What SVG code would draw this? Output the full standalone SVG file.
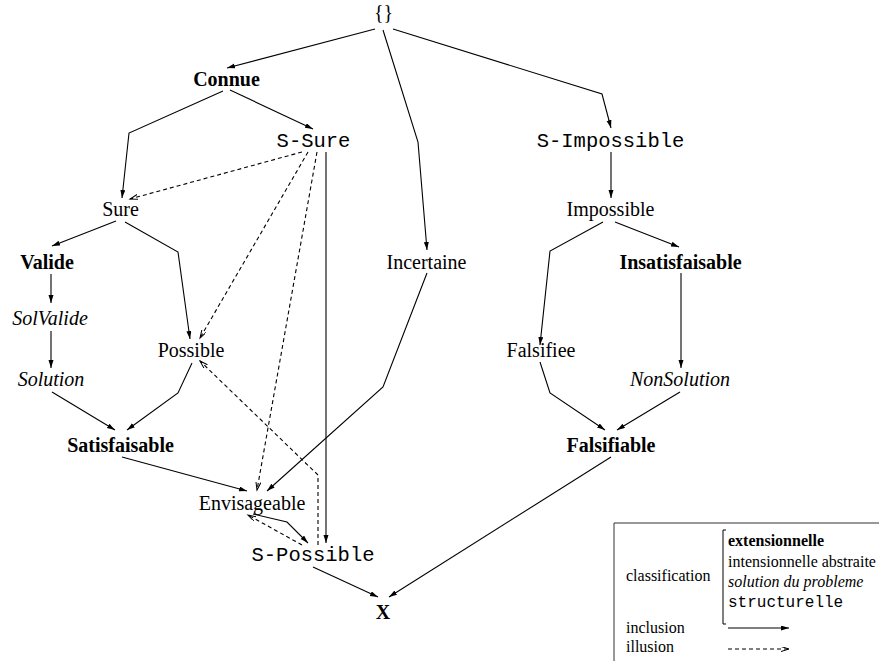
<svg xmlns="http://www.w3.org/2000/svg" width="879" height="661" viewBox="0 0 879 661">
<defs>
<style>
text{font-family:"Liberation Serif","Times New Roman",serif;font-size:20px;fill:#000;text-anchor:middle}
.b{font-weight:bold}
.i{font-style:italic}
.m{font-family:"Liberation Mono","Courier New",monospace;font-size:20.5px}
.lg{font-size:16px;text-anchor:start}
.lgm{font-family:"Liberation Mono","Courier New",monospace;font-size:16px;text-anchor:start}
.e{fill:none;stroke:#000;stroke-width:1.1}
.s{marker-end:url(#ah)}
.d{stroke-dasharray:4 3;marker-end:url(#ahd)}
</style>
<marker id="ah" markerUnits="userSpaceOnUse" markerWidth="10" markerHeight="8" refX="8" refY="2.5" orient="auto"><path d="M0,0 L8,2.5 L0,5 z" fill="#000"/></marker>
<marker id="ahd" markerUnits="userSpaceOnUse" markerWidth="10" markerHeight="8" refX="8" refY="2.5" orient="auto"><path d="M0,0 L8,2.5 L0,5" fill="none" stroke="#000" stroke-width="1"/></marker>
</defs>
<rect width="879" height="661" fill="#fff"/>
<g id="connectors">
<path class="e s" d="M375,29 L227,68"/>
<path class="e s" d="M383,30 L418,142 L427,250"/>
<path class="e s" d="M393,29 L602,94 L611,128"/>
<path class="e s" d="M230,90 L313,129"/>
<path class="e s" d="M223,91 L129,133 L122,198"/>
<path class="e d" d="M302,152 L130,199"/>
<path class="e d" d="M308,152 L200,338"/>
<path class="e d" d="M317,152 L257,490"/>
<path class="e s" d="M326,152 L326,543"/>
<path class="e s" d="M116,221 L52,246"/>
<path class="e s" d="M125,222 L178,252 L190,339"/>
<path class="e s" d="M51,274 L51,303"/>
<path class="e s" d="M51,331 L51,368"/>
<path class="e s" d="M52,392 L115,430"/>
<path class="e s" d="M192,363 L178,393 L127,430"/>
<path class="e d" d="M318,545 L318,475 L200,361"/>
<path class="e s" d="M427,273 L383,387 L267,491"/>
<path class="e s" d="M122,457 L247,491"/>
<path class="e s" d="M253,514 L287,522 L308,543"/>
<path class="e d" d="M302,545 L248,515"/>
<path class="e s" d="M313,567 L378,597"/>
<path class="e s" d="M611,457 L389,597"/>
<path class="e s" d="M611,152 L611,198"/>
<path class="e s" d="M603,222 L550,251 L540,345"/>
<path class="e s" d="M615,222 L679,247"/>
<path class="e s" d="M681,273 L681,368"/>
<path class="e s" d="M540,362 L550,393 L605,430"/>
<path class="e s" d="M680,392 L617,430"/>
</g>
<g id="n-root"><text x="383.5" y="19">{}</text></g>
<g id="n-connue"><text class="b" x="226.5" y="86">Connue</text></g>
<g id="n-ssure"><text class="m" x="313.5" y="147">S-Sure</text></g>
<g id="n-sure"><text x="120.5" y="216">Sure</text></g>
<g id="n-valide"><text class="b" x="47" y="269">Valide</text></g>
<g id="n-solvalide"><text class="i" x="50" y="325">SolValide</text></g>
<g id="n-solution"><text class="i" x="51" y="386">Solution</text></g>
<g id="n-possible"><text x="191" y="357">Possible</text></g>
<g id="n-satisfaisable"><text class="b" x="120.5" y="452">Satisfaisable</text></g>
<g id="n-incertaine"><text x="426.5" y="269">Incertaine</text></g>
<g id="n-simpossible"><text class="m" x="610.5" y="147">S-Impossible</text></g>
<g id="n-impossible"><text x="610.5" y="216">Impossible</text></g>
<g id="n-insatisfaisable"><text class="b" x="680.5" y="269">Insatisfaisable</text></g>
<g id="n-falsifiee"><text x="541" y="357">Falsifiee</text></g>
<g id="n-nonsolution"><text class="i" x="680" y="386">NonSolution</text></g>
<g id="n-falsifiable"><text class="b" x="611" y="452">Falsifiable</text></g>
<g id="n-envisageable"><text x="252" y="510">Envisageable</text></g>
<g id="n-spossible"><text class="m" x="313" y="561">S-Possible</text></g>
<g id="n-x"><text class="b" x="383" y="619">X</text></g>
<g id="legend">
<path d="M614,661 L614,523 L879,523" fill="none" stroke="#333" stroke-width="1"/>
<path d="M726,530 L723,530 L723,624 L726,624" fill="none" stroke="#000" stroke-width="1"/>
<text class="lg" x="626" y="581">classification</text>
<text class="lg b" x="728" y="546">extensionnelle</text>
<text class="lg" x="728" y="567">intensionnelle abstraite</text>
<text class="lg i" x="728" y="587">solution du probleme</text>
<text class="lgm" x="728" y="607">structurelle</text>
<text class="lg" x="626" y="633">inclusion</text>
<text class="lg" x="626" y="652">illusion</text>
<path class="e s" d="M728,628 L789,628"/>
<path class="e d" d="M728,649 L789,649"/>
</g>
</svg>
